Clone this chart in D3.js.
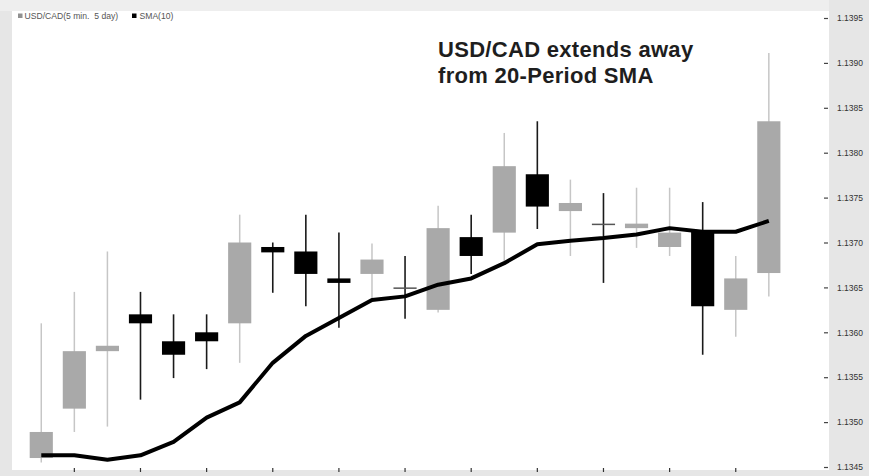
<!DOCTYPE html>
<html>
<head>
<meta charset="utf-8">
<script src="https://cdn.jsdelivr.net/npm/d3@7"></script>
<style>
  html, body { margin: 0; padding: 0; background: #e4e4e4; }
  svg { display: block; }
  text { font-family: "Liberation Sans", Arial, Helvetica, sans-serif; }
</style>
</head>
<body>
<svg id="chart" width="869" height="476"></svg>
<script>
// USD/CAD 5-minute bars with a 10-period simple moving average
const opens  = [1.13460, 1.13515, 1.13579, 1.13620, 1.13590, 1.13600, 1.13610, 1.13695, 1.13690, 1.13660, 1.13665, 1.13650,
                1.13625, 1.13706, 1.13711, 1.13776, 1.13735, 1.13721, 1.13716, 1.13695, 1.13712, 1.13625, 1.13666];
const highs  = [1.13610, 1.13645, 1.13690, 1.13645, 1.13620, 1.13620, 1.13731, 1.13700, 1.13731, 1.13711, 1.13699, 1.13685,
                1.13741, 1.13731, 1.13822, 1.13835, 1.13770, 1.13755, 1.13761, 1.13761, 1.13745, 1.13685, 1.13911];
const lows   = [1.13455, 1.13489, 1.13495, 1.13525, 1.13549, 1.13559, 1.13566, 1.13644, 1.13629, 1.13605, 1.13638, 1.13615,
                1.13622, 1.13665, 1.13677, 1.13715, 1.13685, 1.13655, 1.13694, 1.13685, 1.13575, 1.13595, 1.13640];
const closes = [1.13489, 1.13579, 1.13585, 1.13610, 1.13575, 1.13590, 1.13700, 1.13689, 1.13665, 1.13655, 1.13681, 1.13650,
                1.13716, 1.13685, 1.13785, 1.13740, 1.13744, 1.13721, 1.13721, 1.13711, 1.13629, 1.13660, 1.13835];
const sma    = [1.13463, 1.13463, 1.13458, 1.13463, 1.13478, 1.13505, 1.13522, 1.13566, 1.13596, 1.13616, 1.13636, 1.13640,
                1.13653, 1.13660, 1.13677, 1.13698, 1.13702, 1.13705, 1.13709, 1.13716, 1.13712, 1.13712, 1.13724];
const priceTicks = [1.1345, 1.1350, 1.1355, 1.1360, 1.1365, 1.1370, 1.1375, 1.1380, 1.1385, 1.1390, 1.1395];
const timeTicks  = [1, 3, 5, 7, 9, 11, 13, 15, 17, 19, 21];
const seriesName = "USD/CAD(5 min.  5 day)";
const smaName = "SMA(10)";
const titleLines = ["USD/CAD extends away", "from 20-Period SMA"];

const svg = d3.select("#chart");
const W = 869, H = 476;
const plot = { left: 12, top: 11, right: 829, bottom: 470 };

// panel backgrounds
svg.append("rect").attr("x", 0).attr("y", 0).attr("width", W).attr("height", H).attr("fill", "#e6e6e6");
svg.append("rect").attr("x", 0).attr("y", 0).attr("width", plot.right).attr("height", plot.top).attr("fill", "#eeeeee");
svg.append("rect").attr("x", plot.left).attr("y", plot.top)
  .attr("width", plot.right - plot.left).attr("height", plot.bottom - plot.top).attr("fill", "#ffffff");

const idx = d3.range(opens.length);
const x = d3.scaleBand().domain(idx).range([29.7, 780.4]).paddingInner(0.3).paddingOuter(0);
const cx = i => x(i) + x.bandwidth() / 2;
const y = d3.scaleLinear().domain([1.1345, 1.1395]).range([467, 18]);

// right price axis
const yAxis = d3.axisRight(y).tickValues(priceTicks).tickFormat(d3.format(".4f")).tickSize(4).tickPadding(9);
const ya = svg.append("g").attr("transform", `translate(${824},0)`).call(yAxis);
ya.select(".domain").remove();
ya.selectAll(".tick line").attr("stroke", "#444").attr("stroke-width", 1.2);
ya.selectAll(".tick text").attr("fill", "#333").attr("font-size", 8.5)
  .attr("font-family", "'Liberation Sans', Arial, sans-serif");

// bottom time ticks
const xAxis = d3.axisBottom(x).tickValues(timeTicks).tickSize(4).tickFormat("");
const xa = svg.append("g").attr("transform", `translate(0,${468})`).call(xAxis);
xa.select(".domain").remove();
xa.selectAll(".tick line").attr("stroke", "#333").attr("stroke-width", 1.2);

const bars = idx.map(i => ({ i, o: opens[i], h: highs[i], l: lows[i], c: closes[i], up: closes[i] > opens[i] }));

// wicks
svg.append("g").selectAll("line").data(bars).join("line")
  .attr("x1", d => cx(d.i)).attr("x2", d => cx(d.i))
  .attr("y1", d => y(d.h)).attr("y2", d => y(d.l))
  .attr("stroke", d => d.up ? "#c6c6c6" : "#1a1a1a")
  .attr("stroke-width", d => d.up ? 1.5 : 1.6);

// bodies
svg.append("g").selectAll("rect").data(bars).join("rect")
  .attr("x", d => x(d.i))
  .attr("width", x.bandwidth())
  .attr("y", d => y(Math.max(d.o, d.c)))
  .attr("height", d => Math.max(1.5, Math.abs(y(d.o) - y(d.c))))
  .attr("fill", d => d.up ? "#a9a9a9" : (d.o === d.c ? "#555555" : "#000000"));

// moving average
const line = d3.line().x((d, i) => cx(i)).y(d => y(d));
svg.append("path").datum(sma)
  .attr("d", line)
  .attr("fill", "none").attr("stroke", "#000").attr("stroke-width", 4)
  .attr("stroke-linejoin", "round").attr("stroke-linecap", "butt");

// legend
const lg = svg.append("g").attr("font-size", 8.6).attr("fill", "#555");
lg.append("rect").attr("x", 18).attr("y", 13.5).attr("width", 4.5).attr("height", 4.5).attr("fill", "#909090");
lg.append("text").attr("x", 24.5).attr("y", 19).text(seriesName).style("white-space", "pre");
lg.append("rect").attr("x", 132).attr("y", 13.5).attr("width", 4.5).attr("height", 4.5).attr("fill", "#000");
lg.append("text").attr("x", 139.5).attr("y", 19).text(smaName);

// title
const tt = svg.append("text").attr("x", 438).attr("y", 57)
  .attr("font-size", 22).attr("font-weight", "bold").attr("fill", "#1e1e1e")
  .attr("letter-spacing", 0.3);
titleLines.forEach((t, k) => tt.append("tspan").attr("x", 438).attr("dy", k === 0 ? 0 : 26).text(t));
</script>
</body>
</html>
